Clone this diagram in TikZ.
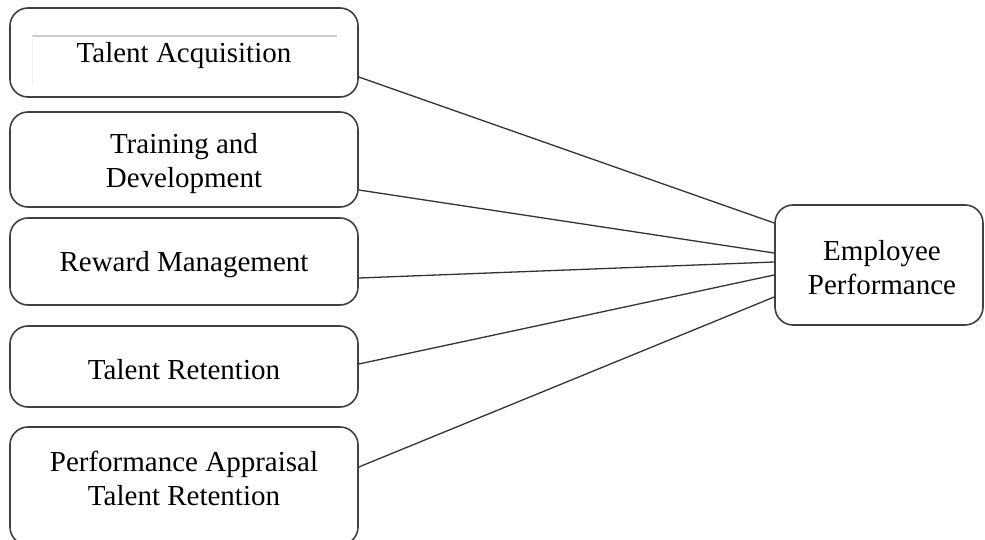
\documentclass[tikz,border=0pt]{standalone}
\usepackage{fontspec}
\setmainfont{Liberation Serif}
\begin{document}
\begin{tikzpicture}[x=1pt,y=-1pt,
  box/.style={draw=black!75, line width=1.6pt, rounded corners=18pt, fill=white, minimum width=348pt, inner sep=0pt},
  rbox/.style={draw=black!75, line width=1.6pt, rounded corners=18pt, fill=white, minimum width=208pt, minimum height=120pt, inner sep=0pt},
  txt/.style={align=center, font=\fontsize{29}{34}\selectfont, inner sep=0pt},
  conn/.style={draw=black!80, line width=1.3pt}]
\useasboundingbox[clip] (0,0) rectangle (985,540);
\fill[white] (0,0) rectangle (985,540);
% left boxes
\node[box, minimum height=89pt] (b1) at (184,52.5) {};
\node[txt] (t1) at (184,56) {Talent Acquisition};
\node[box, minimum height=95pt] (b2) at (184,159.5) {};
\node[txt] (t2) at (184,164) {Training and\\Development};
\node[box, minimum height=87pt] (b3) at (184,261.5) {};
\node[txt] (t3) at (184,265) {Reward Management};
\node[box, minimum height=81pt] (b4) at (184,366.5) {};
\node[txt] (t4) at (184,370) {Talent Retention};
\node[box, minimum height=118pt] (b5) at (184,486) {};
\node[txt] (t5) at (184,478) {Performance Appraisal\\Talent Retention};
% right box
\node[rbox] (e) at (879,265) {};
\node[txt] (te) at (882,267.5) {Employee\\Performance};
% grey artefact line in first box
\coordinate (g1) at (32,36);
\coordinate (g2) at (337,36);
\coordinate (g3) at (32,85);
\draw[gray!40, line width=2pt] (g1) -- (g2);
\draw[gray!12, line width=1pt] (g1) -- (g3);
% connectors
\draw[conn] ([yshift=-24.5pt]b1.east) -- ([yshift=42pt]e.west);
\draw[conn] ([yshift=-30.5pt]b2.east) -- ([yshift=12pt]e.west);
\draw[conn] ([yshift=-16.5pt]b3.east) -- ([yshift=3pt]e.west);
\draw[conn] ([yshift=2.5pt]b4.east) -- ([yshift=-10pt]e.west);
\draw[conn] ([yshift=19pt]b5.east) -- ([yshift=-32pt]e.west);
\end{tikzpicture}
\end{document}
